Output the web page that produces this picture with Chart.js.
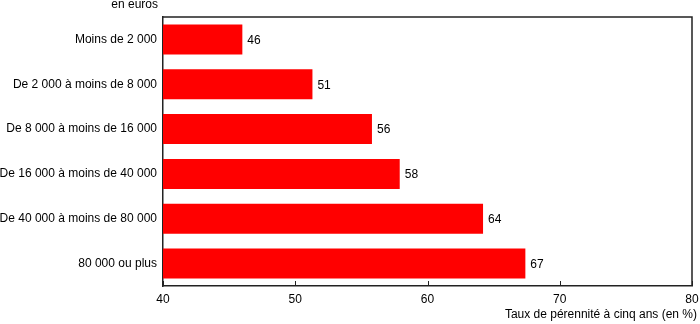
<!DOCTYPE html>
<html>
<head>
<meta charset="utf-8">
<script src="https://cdn.jsdelivr.net/npm/chart.js@4/dist/chart.umd.min.js"></script>
<style>
    body { margin: 0; background: #fff; }
    #wrap { width: 700px; height: 324px; }
</style>
</head>
<body>
<div id="wrap"><canvas id="chartPerennite"></canvas></div>
<script>
// tranches de capital initial (en euros)
const categories = ["Moins de 2 000", "De 2 000 à moins de 8 000", "De 8 000 à moins de 16 000",
    "De 16 000 à moins de 40 000", "De 40 000 à moins de 80 000", "80 000 ou plus"];
const tauxPerennite = [46.0, 51.3, 55.8, 57.9, 64.2, 67.4];
const tauxLabels = ["46", "51", "56", "58", "64", "67"];
const xTicks = [40, 50, 60, 70, 80];
const xTitle = "Taux de pérennité à cinq ans (en %)";

const police = "'Liberation Sans', Arial, sans-serif";

// cadre, graduations vers l'intérieur, valeurs et textes
const labelsPlugin = {
    id: 'labelsPlugin',
    afterDatasetsDraw(chart) {
        let ctx = chart.ctx;
        let area = chart.chartArea;
        let xScale = chart.scales.x;
        ctx.save();

        ctx.strokeStyle = "#222";
        ctx.lineWidth = 1.5;
        ctx.beginPath();
        ctx.moveTo(area.left, area.top);
        ctx.lineTo(area.right, area.top);
        ctx.lineTo(area.right, area.bottom);
        ctx.stroke();

        ctx.lineWidth = 1;
        ctx.beginPath();
        xTicks.forEach(v => {
            let px = Math.round(xScale.getPixelForValue(v)) + 0.5;
            ctx.moveTo(px, area.bottom);
            ctx.lineTo(px, area.bottom - 5);
        });
        ctx.stroke();

        ctx.font = "12px " + police;
        ctx.fillStyle = "#000";
        ctx.textBaseline = "middle";
        ctx.textAlign = "left";
        chart.getDatasetMeta(0).data.forEach((bar, i) => {
            ctx.fillText(tauxLabels[i], bar.x + 5, bar.y + 1);
        });

        ctx.textAlign = "right";
        ctx.textBaseline = "alphabetic";
        ctx.fillText("en euros", chart.scales.y.right - 5, 8);
        ctx.fillText(xTitle, area.right + 5, 318);
        ctx.restore();
    }
};

var myChart = new Chart(document.getElementById('chartPerennite').getContext("2d"), {
    type: 'bar',
    data: {
        labels: categories,
        datasets: [{
            data: tauxPerennite,
            backgroundColor: 'rgb(255,0,0)',
            borderWidth: 0,
            categoryPercentage: 1,
            barPercentage: 0.67
        }]
    },
    options: {
        indexAxis: 'y',
        responsive: true,
        maintainAspectRatio: false,
        animation: false,
        layout: { padding: { top: 17, right: 8, bottom: 2, left: 0 } },
        plugins: {
            legend: { display: false },
            tooltip: { enabled: false }
        },
        scales: {
            x: {
                min: 40,
                max: 80,
                afterBuildTicks: (scale) => { scale.ticks = xTicks.map(v => ({ value: v })); },
                afterFit: (scale) => { scale.height = 36; scale.paddingRight = 0; },
                grid: { display: false, drawTicks: false },
                border: { display: true, color: '#222', width: 1.5 },
                ticks: { color: '#000', font: { size: 12, family: police }, padding: 6, maxRotation: 0 }
            },
            y: {
                afterFit: (scale) => { scale.width = 163; },
                grid: { display: false, drawTicks: false },
                border: { display: true, color: '#222', width: 1.5 },
                ticks: { color: '#000', font: { size: 12, family: police }, padding: 6 }
            }
        }
    },
    plugins: [labelsPlugin]
});
</script>
</body>
</html>
